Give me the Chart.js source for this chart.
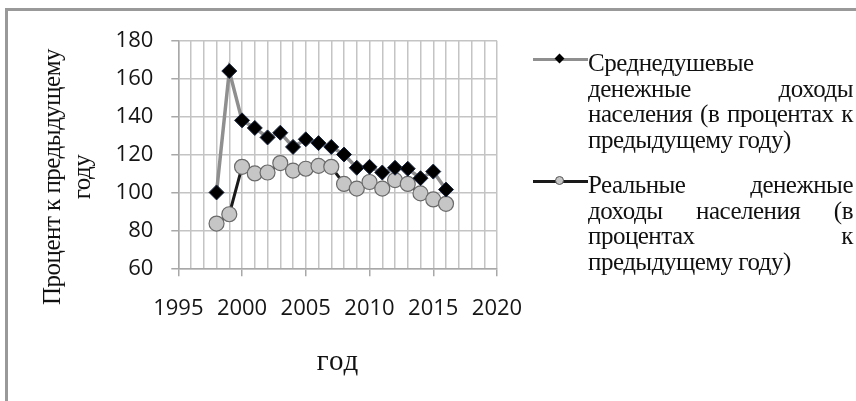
<!DOCTYPE html>
<html lang="ru">
<head>
<meta charset="utf-8">
<script src="https://cdn.jsdelivr.net/npm/chart.js@4.4.1/dist/chart.umd.min.js"></script>
<style>
    html, body { margin: 0; padding: 0; background: #fff; }
    #wrap { position: relative; width: 856px; height: 401px; overflow: hidden; background: #fff; }
    #frame { position: absolute; left: 5px; top: 8px; width: 900px; height: 500px; border: 3px solid #999; box-sizing: border-box; }
    #chart { position: absolute; left: 0; top: 0; }
    .serif { font-family: "Liberation Serif", "Times New Roman", serif; color: #111; letter-spacing: -0.5px; }
    #ytitle { position: absolute; width: 320px; height: 62px; left: -92px; top: 146px; transform: rotate(-90deg);
              text-align: center; font-size: 25px; line-height: 30px; }
    #xtitle { position: absolute; left: 238px; width: 200px; top: 345px; text-align: center;
              font-size: 29px; line-height: 30px; letter-spacing: 1px; }
    .entry { position: absolute; left: 533px; width: 320px; }
    .mark { position: absolute; left: 0; width: 55px; height: 20px; }
    .mark .ln { position: absolute; left: 0; right: 0; top: 8px; height: 3px; }
    .mark .dot { position: absolute; }
    .txt { position: absolute; left: 55px; width: 265px; font-size: 25px; line-height: 25.5px; }
    .txt div { text-align: justify; text-align-last: justify; white-space: nowrap; }
    .txt div.last { text-align-last: left; }
</style>
</head>
<body>
<div id="wrap">
    <div id="frame"></div>
    <canvas id="chart" width="856" height="401"></canvas>
    <div id="ytitle" class="serif">Процент к предыдущему<br>году</div>
    <div id="xtitle" class="serif">год</div>
    <div class="entry" style="top: 50px;">
        <div class="mark"><div class="ln" style="background:#8f8f8f"></div>
            <div class="dot" style="left:23px;top:5px;width:7px;height:7px;background:#000;transform:rotate(45deg)"></div></div>
        <div class="txt serif" id="leg1"></div>
    </div>
    <div class="entry" style="top: 172px;">
        <div class="mark"><div class="ln" style="background:#1a1a1a"></div>
            <div class="dot" style="left:22px;top:4px;width:9px;height:9px;border-radius:50%;background:#c6c6c6;border:1px solid #555;box-sizing:border-box"></div></div>
        <div class="txt serif" id="leg2"></div>
    </div>
</div>
<script>
const years = [1998, 1999, 2000, 2001, 2002, 2003, 2004, 2005, 2006, 2007,
               2008, 2009, 2010, 2011, 2012, 2013, 2014, 2015, 2016];
// среднедушевые денежные доходы, % к предыдущему году
const perCapita = [100, 164, 138, 134, 129, 131.5, 124, 128, 126, 124,
                   120, 113, 113.5, 110.5, 113, 112.5, 107.5, 111, 101.5];
// реальные денежные доходы, % к предыдущему году
const realIncome = [83.6, 88.5, 113.5, 110, 110.5, 115.5, 111.5, 112.5, 114, 113.5,
                    104.5, 102, 105.5, 102, 106.5, 104.5, 99.5, 96.3, 94];

const yTicks = [60, 80, 100, 120, 140, 160, 180];
const xTickLabels = [1995, 2000, 2005, 2010, 2015, 2020];

const legendLines1 = ['Среднедушевые', 'денежные доходы', 'населения (в процентах к', 'предыдущему году)'];
const legendLines2 = ['Реальные денежные', 'доходы населения (в', 'процентах к', 'предыдущему году)'];

function fillLegend(id, lines) {
    const box = document.getElementById(id);
    lines.forEach((t, i) => {
        const d = document.createElement('div');
        d.textContent = t;
        if (i === lines.length - 1 || t.indexOf(' ') < 0) d.className = 'last';
        box.appendChild(d);
    });
}
fillLegend('leg1', legendLines1);
fillLegend('leg2', legendLines2);

const gridColor = '#c4c4c4';
const axisColor = '#a8a8a8';
const labelFont = { family: '"Open Sans", "Liberation Sans", sans-serif', size: 22 };

const ctx = document.getElementById('chart').getContext('2d');
new Chart(ctx, {
    type: 'line',
    data: {
        datasets: [{
            label: 'Среднедушевые денежные доходы населения (в процентах к предыдущему году)',
            data: years.map((y, i) => ({ x: y, y: perCapita[i] })),
            borderColor: '#8f8f8f',
            borderWidth: 3.5,
            pointStyle: 'rectRot',
            pointRadius: 7.5,
            pointBackgroundColor: '#000',
            pointBorderColor: '#1a2740',
            pointBorderWidth: 1,
            order: 0
        }, {
            label: 'Реальные денежные доходы населения (в процентах к предыдущему году)',
            data: years.map((y, i) => ({ x: y, y: realIncome[i] })),
            borderColor: '#1a1a1a',
            borderWidth: 3,
            pointStyle: 'circle',
            pointRadius: 7.5,
            pointBackgroundColor: '#c6c6c6',
            pointBorderColor: '#6a6a6a',
            pointBorderWidth: 1.2,
            order: 1
        }]
    },
    options: {
        responsive: false,
        animation: false,
        layout: { padding: { left: 0, top: 40.7, right: 359, bottom: 0 } },
        plugins: {
            legend: { display: false },
            tooltip: { enabled: false }
        },
        scales: {
            x: {
                type: 'linear',
                min: 1995,
                max: 2020,
                afterFit: scale => { scale.height = 401 - 268.3; },
                ticks: {
                    stepSize: 1,
                    autoSkip: false,
                    maxRotation: 0,
                    padding: 19,
                    color: '#151515',
                    font: labelFont,
                    callback: v => xTickLabels.includes(v) ? String(v) : ''
                },
                grid: {
                    color: gridColor,
                    lineWidth: 1.5,
                    tickLength: 8,
                    tickColor: c => (c.tick && xTickLabels.includes(c.tick.value)) ? axisColor : 'rgba(0,0,0,0)'
                },
                border: { color: axisColor, width: 1.5 }
            },
            y: {
                min: 60,
                max: 180,
                afterFit: scale => { scale.width = 178.3; },
                afterBuildTicks: scale => { scale.ticks = yTicks.map(v => ({ value: v })); },
                ticks: { padding: 18, color: '#151515', font: labelFont },
                grid: { color: gridColor, lineWidth: 1.5, tickLength: 7, tickColor: axisColor },
                border: { color: axisColor, width: 1.5 }
            }
        }
    }
});
</script>
</body>
</html>
